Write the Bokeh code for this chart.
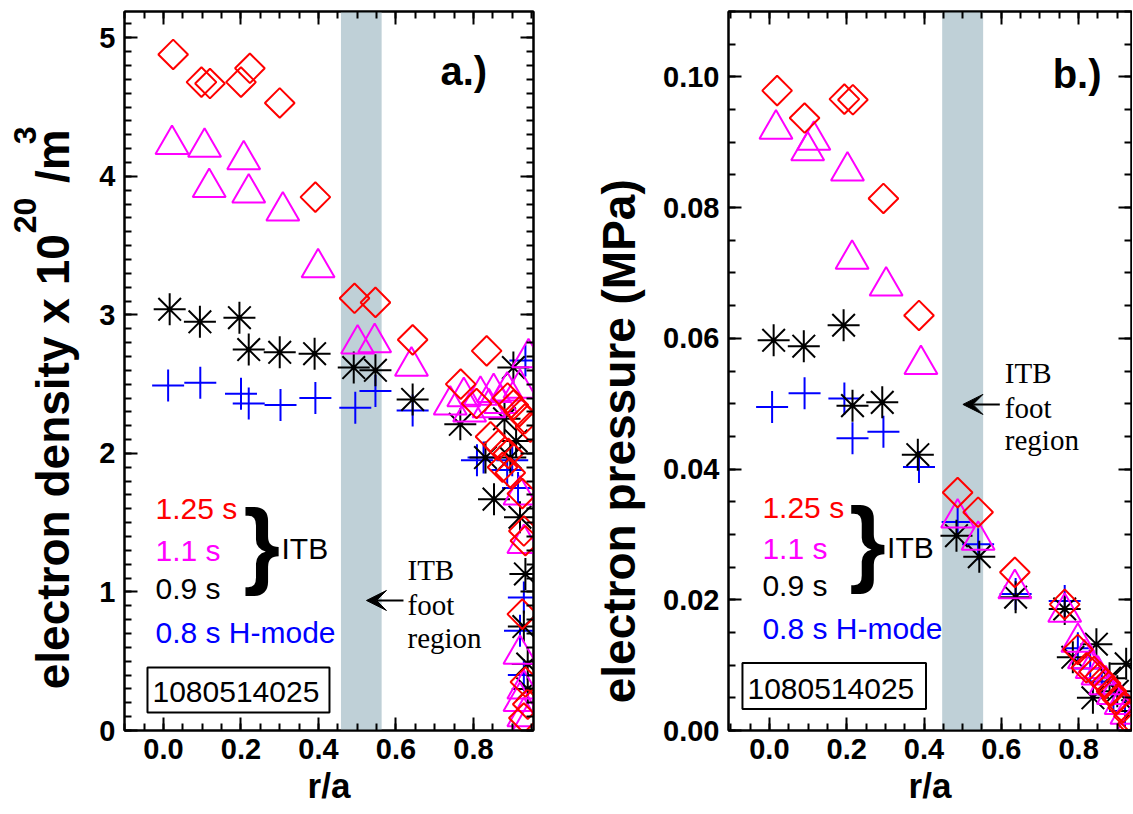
import math
from bokeh.plotting import figure
from bokeh.layouts import row
from bokeh.models import (Label, BoxAnnotation, Arrow, VeeHead, LinearAxis,
                          SingleIntervalTicker, PrintfTickFormatter,
                          CustomJSTickFormatter, Range1d)
from bokeh.embed import file_html
from bokeh.resources import INLINE

# ---------------- data ----------------
# panel a: electron density (1e20 m^-3) vs r/a
dens_125_x = [0.025, 0.098, 0.12, 0.20, 0.223, 0.30, 0.392, 0.493, 0.547, 0.643,
              0.767, 0.834, 0.808, 0.844, 0.864, 0.89, 0.875, 0.895, 0.888, 0.903,
              0.918, 0.933, 0.947, 0.926, 0.93, 0.934, 0.926, 0.934, 0.94, 0.93]
dens_125_y = [4.88, 4.68, 4.67, 4.68, 4.78, 4.53, 3.85, 3.12, 3.09, 2.82,
              2.50, 2.74, 2.36, 2.12, 2.06, 2.00, 1.90, 1.86, 2.40, 2.35,
              2.30, 2.25, 2.19, 1.71, 1.44, 1.37, 0.84, 0.35, 0.19, 0.09]
dens_11_x = [0.022, 0.106, 0.207, 0.118, 0.22, 0.308, 0.399, 0.501, 0.545, 0.64,
             0.775, 0.818, 0.852, 0.887, 0.92, 0.942, 0.74, 0.79, 0.84, 0.87,
             0.92, 0.93, 0.92, 0.93, 0.92, 0.93, 0.94]
dens_11_y = [4.23, 4.21, 4.12, 3.92, 3.88, 3.75, 3.34, 2.79, 2.80, 2.63,
             2.41, 2.42, 2.44, 2.45, 2.47, 2.69, 2.35, 2.30, 2.33, 2.36,
             1.70, 1.35, 0.55, 0.30, 0.21, 0.10, 0.05]
dens_09_x = [0.016, 0.094, 0.196, 0.22, 0.30, 0.39, 0.491, 0.547, 0.643, 0.766,
             0.831, 0.853, 0.895, 0.91, 0.903, 0.92, 0.934, 0.94, 0.94, 0.93, 0.88]
dens_09_y = [3.04, 2.95, 2.98, 2.75, 2.73, 2.72, 2.62, 2.60, 2.39, 2.21,
             1.97, 1.67, 1.97, 2.09, 2.62, 1.54, 1.13, 0.48, 0.30, 0.75, 2.25]
dens_08_x = [0.012, 0.095, 0.20, 0.22, 0.302, 0.392, 0.495, 0.547, 0.643, 0.809,
             0.826, 0.887, 0.90, 0.915, 0.934, 0.93, 0.92, 0.93]
dens_08_y = [2.49, 2.51, 2.43, 2.36, 2.35, 2.40, 2.33, 2.45, 2.31, 1.95,
             1.97, 1.88, 1.95, 1.75, 2.67, 0.96, 0.72, 0.40]

# panel b: electron pressure (MPa) vs r/a
pres_125_x = [0.02, 0.091, 0.194, 0.216, 0.295, 0.387, 0.487, 0.54, 0.635, 0.764,
              0.798, 0.82, 0.84, 0.855, 0.87, 0.885, 0.90, 0.915, 0.93, 0.94]
pres_125_y = [0.0979, 0.0937, 0.0966, 0.0965, 0.0814, 0.0635, 0.0364, 0.0334, 0.0242, 0.0193,
              0.0124, 0.0096, 0.0090, 0.0082, 0.0072, 0.0060, 0.0048, 0.0035, 0.0022, 0.0010]
pres_11_x = [0.017, 0.099, 0.115, 0.202, 0.214, 0.302, 0.392, 0.487, 0.54, 0.635,
             0.764, 0.798, 0.815, 0.835, 0.85, 0.87, 0.89, 0.91, 0.925, 0.94]
pres_11_y = [0.0920, 0.0887, 0.0903, 0.0856, 0.0721, 0.0680, 0.0560, 0.0325, 0.0291, 0.0217,
             0.0181, 0.0135, 0.0110, 0.0095, 0.0085, 0.0070, 0.0055, 0.0040, 0.0025, 0.0012]
pres_09_x = [0.011, 0.089, 0.192, 0.215, 0.292, 0.384, 0.484, 0.543, 0.637, 0.764,
             0.785, 0.846, 0.837, 0.88, 0.90, 0.923, 0.94]
pres_09_y = [0.0597, 0.0588, 0.0620, 0.0497, 0.0502, 0.0422, 0.0298, 0.0266, 0.0204, 0.0186,
             0.0112, 0.0132, 0.0050, 0.0080, 0.0060, 0.0102, 0.0030]
pres_08_x = [0.007, 0.091, 0.194, 0.215, 0.295, 0.387, 0.487, 0.54, 0.637, 0.764,
             0.798, 0.83, 0.86, 0.89, 0.92]
pres_08_y = [0.0495, 0.0516, 0.0508, 0.0447, 0.0457, 0.0403, 0.0319, 0.0285, 0.0209, 0.0198,
             0.0126, 0.0095, 0.0075, 0.0055, 0.0030]

legend_labels = ["1.25 s", "1.1 s", "0.9 s", "0.8 s H-mode"]
shot_number = "1080514025"
band_a = (0.458, 0.563)
band_b = (0.447, 0.553)

# ---------------- styling ----------------
RED, MAG, BLK, BLU = "#ff0000", "#ff00ff", "#000000", "#0000ff"
SANS, SERIF = "Liberation Sans", "Liberation Serif"
BAND = "#bfd0d7"
H = 812
NB = "\u00a0"
MID = 0.3465  # label anchor sits this many em above the glyph baseline


def pos_a(px, py):
    return ((px - 163) / 387.5, (730 - py) / 138.5)


def pos_b(px, py):
    return ((px - 769) / 387.5, (729.5 - py) / 6525.0)


def make_fig(width, xr, yr, min_left, min_right, yint, nminor, yfmt,
             ylabel, ylabel_standoff):
    p = figure(width=width, height=H, x_range=Range1d(*xr), y_range=Range1d(*yr),
               output_backend="svg", toolbar_location=None,
               min_border_left=min_left, min_border_right=min_right,
               min_border_top=11, min_border_bottom=82)
    p.xgrid.visible = False
    p.ygrid.visible = False
    p.outline_line_color = "black"
    p.outline_line_width = 2
    xa = p.xaxis[0]
    ya = p.yaxis[0]
    xt = SingleIntervalTicker(interval=0.2, num_minor_ticks=4)
    yt = SingleIntervalTicker(interval=yint, num_minor_ticks=nminor)
    xa.ticker = xt
    ya.ticker = yt
    xa.formatter = PrintfTickFormatter(format="%.1f")
    ya.formatter = PrintfTickFormatter(format=yfmt)
    blank = CustomJSTickFormatter(code="return ''")
    top = LinearAxis(ticker=xt, formatter=blank, major_label_standoff=0)
    rgt = LinearAxis(ticker=yt, formatter=blank, major_label_standoff=0)
    p.add_layout(top, "above")
    p.add_layout(rgt, "right")
    for ax in [xa, ya, top, rgt]:
        ax.axis_line_width = 2
        ax.major_tick_line_width = 2
        ax.minor_tick_line_width = 2
        ax.major_tick_in = 13
        ax.major_tick_out = 0
        ax.minor_tick_in = 7
        ax.minor_tick_out = 0
        ax.major_label_text_font = SANS
        ax.major_label_text_font_style = "bold"
        ax.major_label_text_font_size = "29px"
        ax.major_label_text_color = "black"
    xa.major_label_standoff = 8
    ya.major_label_standoff = 9
    for ax, lab, size, std in [(xa, "r/a", "35px", 4), (ya, ylabel, "46px", ylabel_standoff)]:
        ax.axis_label = lab
        ax.axis_label_text_font = SANS
        ax.axis_label_text_font_style = "bold"
        ax.axis_label_text_font_size = size
        ax.axis_label_text_color = "black"
        ax.axis_label_standoff = std
    return p


def add_points(p, series):
    (x08, y08), (x09, y09), (x11, y11), (x125, y125) = series
    p.scatter(x08, y08, marker="cross", size=32, line_color=BLU, line_width=2)
    p.scatter(x09, y09, marker="asterisk", size=32, line_color=BLK, line_width=2)
    p.scatter(x11, y11, marker="triangle", size=33, line_color=MAG, fill_color=None, line_width=2)
    p.scatter(x125, y125, marker="square", angle=math.pi / 4, size=21,
              line_color=RED, fill_color=None, line_width=2)


def txt(p, pos, px, base, text, size, color="black", font=SANS, style="normal"):
    # px, base: left edge and glyph baseline in picture pixels
    x, y = pos(px, base - MID * size)
    p.add_layout(Label(x=x, y=y, text=text, text_font=font, text_font_size=f"{size}px",
                       text_font_style=style, text_color=color,
                       text_align="left", text_baseline="alphabetic"))


def decorate(p, pos, band, legend_x, legend_base, brace, itb, box, box_text,
             foot_x, foot_base, arrow, tag, tag_pos):
    p.add_layout(BoxAnnotation(left=band[0], right=band[1], fill_color=BAND, fill_alpha=1.0,
                               line_color=None, level="underlay"))
    for lab, col, by in zip(legend_labels, [RED, MAG, BLK, BLU], legend_base):
        txt(p, pos, legend_x, by, lab, 30, col)
    txt(p, pos, brace[0], brace[1], "}", 94, style="bold")
    txt(p, pos, itb[0], itb[1], "ITB", 30)
    l, t = pos(box[0], box[1])
    r, b = pos(box[2], box[3])
    p.add_layout(BoxAnnotation(left=l, right=r, top=t, bottom=b, fill_color=None,
                               line_color="black", line_alpha=1.0, line_width=2))
    txt(p, pos, box_text[0], box_text[1], shot_number, 30)
    for word, by in zip(["ITB", "foot", "region"], foot_base):
        txt(p, pos, foot_x, by, word, 29, font=SERIF)
    xs, ys = pos(arrow[0], arrow[1])
    xe, ye = pos(arrow[2], arrow[3])
    p.add_layout(Arrow(end=VeeHead(size=20, fill_color="black", line_color="black", line_width=1),
                       x_start=xs, y_start=ys, x_end=xe, y_end=ye,
                       line_color="black", line_width=2))
    txt(p, pos, tag_pos[0], tag_pos[1], tag, 40, style="bold")


# ---------------- panel a ----------------
pa = make_fig(590, (-0.1006, 0.9549), (0, 5.19), 124, 57, 1, 10, "%.0f",
              "electron density x 10" + NB * 4 + "/m" + NB * 6, 17)
# superscripts of the unit (outer label line)
sup = LinearAxis(formatter=CustomJSTickFormatter(code="return ''"),
                 axis_line_color=None, major_tick_line_color=None, minor_tick_line_color=None,
                 major_label_standoff=0, major_tick_in=0, major_tick_out=0,
                 minor_tick_in=0, minor_tick_out=0,
                 axis_label=NB * 43 + "20" + NB * 6 + "3",
                 axis_label_text_font=SANS, axis_label_text_font_style="bold",
                 axis_label_text_color="black",
                 axis_label_text_font_size="32px", axis_label_standoff=-18)
pa.add_layout(sup, "left")
add_points(pa, [(dens_08_x, dens_08_y), (dens_09_x, dens_09_y),
                (dens_11_x, dens_11_y), (dens_125_x, dens_125_y)])
decorate(pa, pos_a, band_a, 155, [518, 560, 598, 642], (243, 576), (281, 558),
         (147, 667, 329, 712), (152, 702), 407, [580, 615, 648],
         (403, 600, 366, 600), "a.)", (440, 85))

# ---------------- panel b ----------------
pb = make_fig(542, (-0.1058, 0.9368), (0, 0.11), 138, 1, 0.02, 4, "%.2f",
              "electron pressure (MPa)" + NB * 11, 15)
add_points(pb, [(pres_08_x, pres_08_y), (pres_09_x, pres_09_y),
                (pres_11_x, pres_11_y), (pres_125_x, pres_125_y)])
decorate(pb, pos_b, band_b, 762, [517, 558, 595, 638], (849, 573), (887, 557),
         (742, 662, 926, 708), (747, 698), 1005, [383, 418, 450],
         (1000, 404, 963, 404), "b.)", (1053, 88))

layout = row(pa, pb)
open("out.html", "w").write(file_html(layout, INLINE))
